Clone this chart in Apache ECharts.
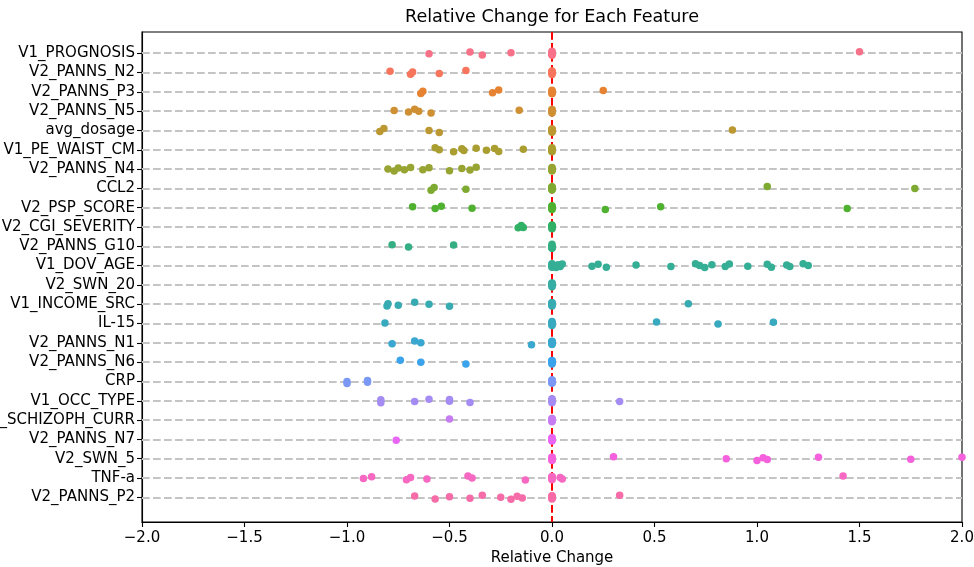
<!DOCTYPE html>
<html><head><meta charset="utf-8">
<script src="https://cdn.jsdelivr.net/npm/echarts@6/dist/echarts.min.js"></script>
<style>html,body{margin:0;padding:0;background:#fff}#c{width:974px;height:567px}</style>
</head><body><div id="c"></div>
<script>
// ---------- data ----------
const title = 'Relative Change for Each Feature';
const xAxisName = 'Relative Change';
const xTicks = [-2.0, -1.5, -1.0, -0.5, 0.0, 0.5, 1.0, 1.5, 2.0];
const categories = ['V1_PROGNOSIS','V2_PANNS_N2','V2_PANNS_P3','V2_PANNS_N5','avg_dosage','V1_PE_WAIST_CM',
  'V2_PANNS_N4','CCL2','V2_PSP_SCORE','V2_CGI_SEVERITY','V2_PANNS_G10','V1_DOV_AGE','V2_SWN_20',
  'V1_INCOME_SRC','IL-15','V2_PANNS_N1','V2_PANNS_N6','CRP','V1_OCC_TYPE','V1_SCHIZOPH_CURR',
  'V2_PANNS_N7','V2_SWN_5','TNF-a','V2_PANNS_P2'];
const Z6 = [0, 0, 0, 0, 0, 0]; // features with no change
const v1Prognosis   = [-0.60, -0.40, -0.34, -0.20, ...Z6, 1.50];
const v2PannsN2     = [-0.79, -0.69, -0.68, -0.55, -0.42, ...Z6];
const v2PannsP3     = [-0.64, -0.63, -0.29, -0.26, ...Z6, 0.25];
const v2PannsN5     = [-0.77, -0.70, -0.67, -0.65, -0.59, -0.16, ...Z6];
const avgDosage     = [-0.84, -0.82, -0.60, -0.55, ...Z6, 0.88];
const v1PeWaistCm   = [-0.57, -0.55, -0.48, -0.44, -0.43, -0.37, -0.32, -0.28, -0.26, -0.14, ...Z6];
const v2PannsN4     = [-0.80, -0.77, -0.75, -0.72, -0.69, -0.63, -0.60, -0.50, -0.44, -0.40, -0.37, ...Z6];
const ccl2          = [-0.59, -0.575, -0.42, ...Z6, 1.05, 1.77];
const v2PspScore    = [-0.68, -0.57, -0.54, -0.39, ...Z6, 0.26, 0.53, 1.44];
const v2CgiSeverity = [-0.165, -0.15, -0.14, ...Z6];
const v2PannsG10    = [-0.78, -0.70, -0.48, ...Z6];
const v1DovAge      = [...Z6, 0.01, 0.02, 0.03, 0.04, 0.05, 0.195, 0.225, 0.265, 0.41, 0.58, 0.70, 0.72,
                       0.745, 0.78, 0.845, 0.865, 0.955, 1.05, 1.07, 1.145, 1.16, 1.225, 1.25];
const v2Swn20       = [...Z6];
const v1IncomeSrc   = [-0.805, -0.80, -0.75, -0.67, -0.60, -0.50, ...Z6, 0.665];
const il15          = [-0.815, ...Z6, 0.51, 0.81, 1.08];
const v2PannsN1     = [-0.78, -0.67, -0.64, -0.10, ...Z6];
const v2PannsN6     = [-0.74, -0.64, -0.42, ...Z6];
const crp           = [-1.00, -1.00, -0.90, -0.90, ...Z6];
const v1OccType     = [-0.835, -0.835, -0.67, -0.60, -0.50, -0.50, -0.40, ...Z6, 0.33];
const v1SchizophCurr= [-0.50, ...Z6];
const v2PannsN7     = [-0.76, ...Z6];
const v2Swn5        = [...Z6, 0.30, 0.85, 1.00, 1.03, 1.05, 1.30, 1.75, 2.00];
const tnfA          = [-0.92, -0.88, -0.71, -0.69, -0.61, -0.41, -0.39, -0.13, ...Z6, 0.04, 0.05, 1.42];
const v2PannsP2     = [-0.67, -0.57, -0.50, -0.40, -0.34, -0.25, -0.20, -0.17, -0.145, ...Z6, 0.33];
const seriesValues = [v1Prognosis, v2PannsN2, v2PannsP3, v2PannsN5, avgDosage, v1PeWaistCm, v2PannsN4,
  ccl2, v2PspScore, v2CgiSeverity, v2PannsG10, v1DovAge, v2Swn20, v1IncomeSrc, il15, v2PannsN1,
  v2PannsN6, crp, v1OccType, v1SchizophCurr, v2PannsN7, v2Swn5, tnfA, v2PannsP2];

// ---------- styling helpers ----------
// small fixed strip-plot jitter pattern (fraction of a category step)
const JITTER = [0.03, -0.07, 0.09, -0.03, 0.05, -0.1, 0.0, 0.1, -0.05, 0.04, -0.08];

// seaborn husl palette
const HM = [[3.2406, -1.5372, -0.4986], [-0.9689, 1.8758, 0.0415], [0.0557, -0.2040, 1.0570]];
const refU = 0.19784, refV = 0.46834, kappa = 24389/27, eps = 216/24389;
function maxChroma(L, H) {
  const hr = H*Math.PI/180, sinH = Math.sin(hr), cosH = Math.cos(hr);
  const sub1 = Math.pow(L+16,3)/1560896;
  const sub2 = sub1 > 0.008856 ? sub1 : L/903.3;
  let res = Infinity;
  for (const [m1,m2,m3] of HM) {
    const top = (0.99915*m1 + 1.05122*m2 + 1.14460*m3)*sub2;
    const rb = 0.86330*m3 - 0.17266*m2;
    const lb = 0.12949*m3 - 0.38848*m1;
    const bottom = (rb*sinH + lb*cosH)*sub2;
    for (const t of [0,1]) {
      const C = L*(top - 1.05122*t)/(bottom + 0.17266*sinH*t);
      if (C > 0 && C < res) res = C;
    }
  }
  return res;
}
function husl(H, S, L) {
  const C = maxChroma(L,H)/100*S;
  const hr = H*Math.PI/180;
  const U = Math.cos(hr)*C, V = Math.sin(hr)*C;
  const t = (L+16)/116;
  const Y = Math.pow(t,3) > eps ? Math.pow(t,3) : (116*t-16)/kappa;
  const vu = U/(13*L)+refU, vv = V/(13*L)+refV;
  const X = -(9*Y*vu)/((vu-4)*vv - vu*vv);
  const Zc = (9*Y - 15*vv*Y - vv*X)/(3*vv);
  const rgb = HM.map(r => {
    let c = r[0]*X + r[1]*Y + r[2]*Zc;
    c = c <= 0.0031308 ? 12.92*c : 1.055*Math.pow(c,1/2.4)-0.055;
    return Math.round(Math.min(1,Math.max(0,c))*255);
  });
  return 'rgb(' + rgb.join(',') + ')';
}
const n = categories.length;
const palette = categories.map((_, i) => husl((((i/n) + 0.01) % 1)*359, 0.9*99, 0.65*99));

const FONT = 'DejaVu Sans';
const series = [];
// horizontal dashed grid lines on each category
series.push({
  type: 'scatter', data: [], silent: true, z: 1,
  markLine: { silent: true, z: 1, symbol: 'none', label: { show: false }, animation: false,
    lineStyle: { color: '#c4c4c4', width: 2, type: [7.7, 3.3] },
    data: categories.map((_, i) => ({ yAxis: i })) }
});
// red dashed zero line
series.push({
  type: 'scatter', data: [], silent: true, z: 2,
  markLine: { silent: true, z: 2, symbol: 'none', label: { show: false }, animation: false,
    lineStyle: { color: '#ff0000', width: 2, type: [7.7, 3.3] },
    data: [{ xAxis: 0 }] }
});
seriesValues.forEach((vals, i) => {
  series.push({
    type: 'scatter', name: categories[i], z: 3,
    symbol: 'circle', symbolSize: 7.5,
    itemStyle: { color: palette[i], opacity: 1, borderWidth: 0 },
    emphasis: { disabled: true },
    data: vals.map((v, k) => [v, i + JITTER[(k + i) % JITTER.length]])
  });
});

const chart = echarts.init(document.getElementById('c'), null, { renderer: 'canvas' });
chart.setOption({
  animation: false,
  backgroundColor: '#ffffff',
  title: { text: title, left: 552, top: 8, padding: 0, textAlign: 'center',
    textStyle: { fontFamily: FONT, fontSize: 17.6, fontWeight: 'normal', color: '#000' } },
  grid: { left: 142, right: 12, top: 32, bottom: 45, show: true, borderColor: '#000', borderWidth: 1.1,
    containLabel: false, outerBoundsMode: 'none' },
  xAxis: {
    type: 'value', min: xTicks[0], max: xTicks[xTicks.length-1], interval: 0.5,
    name: xAxisName, nameLocation: 'middle', nameGap: 27,
    nameTextStyle: { fontFamily: FONT, fontSize: 15, color: '#000' },
    axisLine: { show: true, onZero: false, lineStyle: { color: '#000', width: 1.1 } },
    axisTick: { show: true, length: 5, lineStyle: { color: '#000', width: 1.1 } },
    axisLabel: { margin: 9, fontFamily: FONT, fontSize: 15, color: '#000',
      formatter: v => v.toFixed(1).replace('-', '\u2212') },
    splitLine: { show: false }
  },
  yAxis: {
    type: 'value', inverse: true, min: -1.1, max: 24.28,
    axisLine: { show: true, onZero: false, lineStyle: { color: '#000', width: 1.1 } },
    axisTick: { show: true, length: 5, lineStyle: { color: '#000', width: 1.1 },
      customValues: categories.map((_, i) => i) },
    axisLabel: { margin: 7, fontFamily: FONT, fontSize: 15, color: '#000',
      customValues: categories.map((_, i) => i),
      formatter: v => categories[Math.round(v)] },
    splitLine: { show: false }
  },
  series: series
});
</script>
</body></html>
